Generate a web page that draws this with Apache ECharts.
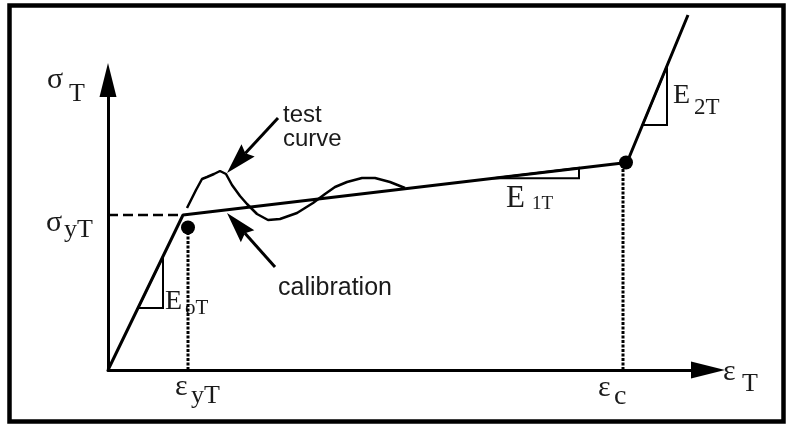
<!DOCTYPE html>
<html><head><meta charset="utf-8">
<script src="https://cdn.jsdelivr.net/npm/echarts@6/dist/echarts.min.js"></script>
<style>html,body{margin:0;padding:0;background:#fff}#c{width:787px;height:428px}</style>
</head><body><div id="c"></div>
<script>
// ---- data: strain εT (x) and stress σT (y), arbitrary units ----
const strainMax = 120;
const stressMax = 58;
const calibrationStrain = [0, 15, 103.8, 116];
const calibrationStress = [0, 31, 41.5, 71];
const yieldLevelStrain = [0, 15];
const yieldLevelStress = [31, 31];
const pointStrain = [16, 103.6];      // yield point, ε_c point
const pointStress = [28.5, 41.5];
const dropStrain = [16, 103];
const testStrain = [15.8,17.6,18.8,19.8,21.2,22.4,23.6,24.8,26.4,27.8,29.8,32,34.4,37.8,41,43.4,45.4,47.8,50.8,53.4,56.4,59.4];
const testStress = [32.4,36,38.2,38.6,39.2,39.8,39.2,37,34.8,33.2,31.2,30,30.2,31.4,33.4,35.2,36.6,37.6,38.4,38.4,37.6,36.4];
const slopeStrainA = [6, 77, 106.9];
const slopeStrainB = [11, 94.2, 111.8];
const slopeStressA = [12.4, 38.35, 49];
const slopeStressB = [22.7, 40.4, 60.8];
const arrowFromStrain = [34, 33.4];
const arrowFromStress = [50.4, 20.6];
const arrowToStrain = [23.8, 23.8];
const arrowToStress = [39.4, 31.4];
const annotationText = ['test\ncurve', 'calibration'];

// ---- build ----
const zip = (a, b) => a.map((v, i) => [v, b[i]]);
const chart = echarts.init(document.getElementById('c'), null, {renderer: 'canvas'});
const serif = '"Liberation Serif", "Times New Roman", serif';
const sans = '"Liberation Sans", Arial, sans-serif';
const ink = '#1a1a1a';

function txt(x, baseline, text, size, family) {
  return {type: 'text', x: x, y: baseline - size * 0.3, silent: true,
    style: {text: text, fontSize: size, fontFamily: family || serif, fill: ink,
      align: 'left', verticalAlign: 'middle'}};
}

const blackLine = (w, type) => ({color: '#000', width: w, type: type || 'solid'});

const option = {
  animation: false,
  backgroundColor: '#fff',
  grid: {left: 108, top: 80, width: 600, height: 290, containLabel: false, outerBoundsMode: 'none'},
  xAxis: {type: 'value', min: 0, max: strainMax,
    axisLine: {show: true, onZero: false, lineStyle: {color: '#000', width: 3},
      symbol: ['none', 'triangle'], symbolSize: [17, 34]},
    axisTick: {show: false}, axisLabel: {show: false}, splitLine: {show: false}},
  yAxis: {type: 'value', min: 0, max: stressMax,
    axisLine: {show: true, onZero: false, lineStyle: {color: '#000', width: 3},
      symbol: ['none', 'triangle'], symbolSize: [17, 34]},
    axisTick: {show: false}, axisLabel: {show: false}, splitLine: {show: false}},
  series: [
    {type: 'line', name: 'calibration', data: zip(calibrationStrain, calibrationStress),
      symbol: 'none', clip: false, lineStyle: blackLine(3), z: 5},
    {type: 'line', name: 'σyT level', data: zip(yieldLevelStrain, yieldLevelStress),
      symbol: 'none', lineStyle: blackLine(2.5, [10, 5])},
    {type: 'line', name: 'test curve', data: zip(testStrain, testStress),
      symbol: 'none', lineStyle: blackLine(2.5), z: 4},
    {type: 'line', name: 'εyT drop', data: [[dropStrain[0], 0], [dropStrain[0], pointStress[0]]],
      symbol: 'none', lineStyle: blackLine(3, [3, 1.5])},
    {type: 'line', name: 'εc drop', data: [[dropStrain[1], 0], [dropStrain[1], pointStress[1]]],
      symbol: 'none', lineStyle: blackLine(3, [3, 1.5])},
    {type: 'scatter', name: 'points', data: zip(pointStrain, pointStress),
      symbol: 'circle', symbolSize: 14, itemStyle: {color: '#000', opacity: 1}, z: 6},
    {type: 'custom', name: 'slopes', clip: false,
      data: slopeStrainA.map((v, i) => [v, slopeStressA[i], slopeStrainB[i], slopeStressB[i]]),
      encode: {x: [0, 2], y: [1, 3]},
      renderItem: function (params, api) {
        const a = api.coord([api.value(0), api.value(1)]);
        const b = api.coord([api.value(2), api.value(1)]);
        const c = api.coord([api.value(2), api.value(3)]);
        return {type: 'polygon', shape: {points: [a, b, c]},
          style: {fill: 'none', stroke: '#000', lineWidth: 2}};
      }},
    {type: 'custom', name: 'arrows', clip: false,
      data: arrowFromStrain.map((v, i) => [v, arrowFromStress[i], arrowToStrain[i], arrowToStress[i]]),
      encode: {x: [0, 2], y: [1, 3]},
      renderItem: function (params, api) {
        const p0 = api.coord([api.value(0), api.value(1)]);
        const p1 = api.coord([api.value(2), api.value(3)]);
        const dx = p1[0] - p0[0], dy = p1[1] - p0[1], L = Math.hypot(dx, dy);
        const ux = dx / L, uy = dy / L, hl = 31, hw = 9, notch = 4;
        const bx = p1[0] - ux * hl, by = p1[1] - uy * hl;
        return {type: 'group', children: [
          {type: 'line', shape: {x1: p0[0], y1: p0[1], x2: bx + ux * notch, y2: by + uy * notch},
            style: {stroke: '#000', lineWidth: 3}},
          {type: 'polygon', shape: {points: [p1, [bx - uy * hw, by + ux * hw],
            [bx + ux * notch, by + uy * notch], [bx + uy * hw, by - ux * hw]]},
            style: {fill: '#000'}}
        ]};
      }}
  ],
  graphic: [
    {type: 'rect', shape: {x: 9.5, y: 5.5, width: 774, height: 416}, silent: true,
      style: {fill: 'none', stroke: '#000', lineWidth: 4.5}},
    txt(47, 89, 'σ', 30), txt(69, 102, 'T', 26),
    txt(46, 232, 'σ', 30), txt(64, 238, 'yT', 26),
    txt(165, 310, 'E', 28), txt(185, 315, 'oT', 21),
    txt(175, 396, 'ε', 30), txt(191, 404, 'yT', 26),
    txt(598, 397, 'ε', 30), txt(614, 405, 'c', 28),
    txt(723, 381, 'ε', 30), txt(742, 392, 'T', 26),
    txt(506, 208, 'E', 31), txt(532, 210, '1T', 19),
    txt(673, 104, 'E', 28), txt(694, 115, '2T', 23),
    txt(283, 123, annotationText[0].split('\n')[0], 24, sans),
    txt(283, 147, annotationText[0].split('\n')[1], 24, sans),
    txt(278, 296, annotationText[1], 25, sans)
  ]
};
chart.setOption(option);
</script></body></html>
